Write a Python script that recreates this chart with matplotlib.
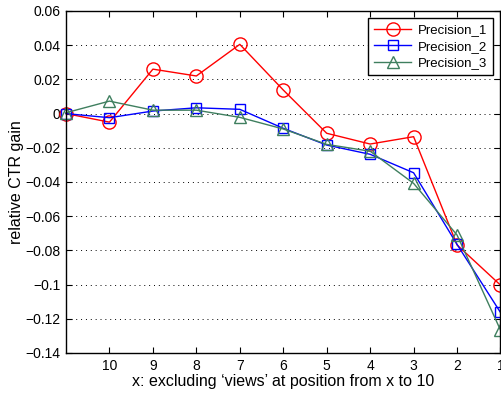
import numpy as np
import matplotlib.pyplot as plt

plt.rcParams['font.family'] = ['Liberation Sans', 'DejaVu Sans']

# data
x = [11, 10, 9, 8, 7, 6, 5, 4, 3, 2, 1]
prec_1 = [0.0, -0.005, 0.026, 0.022, 0.0405, 0.0138, -0.0115, -0.0178, -0.0135, -0.0768, -0.1003]
prec_2 = [0.0, -0.0024, 0.0015, 0.0034, 0.0025, -0.0086, -0.0184, -0.0238, -0.0346, -0.0765, -0.1163]
prec_3 = [0.0005, 0.0073, 0.002, 0.002, -0.0022, -0.009, -0.018, -0.022, -0.0408, -0.071, -0.1266]
xticks = [10, 9, 8, 7, 6, 5, 4, 3, 2, 1]
yticks = [0.06, 0.04, 0.02, 0, -0.02, -0.04, -0.06, -0.08, -0.1, -0.12, -0.14]
ylabels = ['0.06', '0.04', '0.02', '0', '\u22120.02', '\u22120.04', '\u22120.06',
           '\u22120.08', '\u22120.1', '\u22120.12', '\u22120.14']

fig = plt.figure(figsize=(5.02, 3.93), dpi=100)
ax = fig.add_axes([66 / 502, 1 - 353 / 393, 434.5 / 502, 342 / 393])

ax.plot(x, prec_1, '-o', color='#ff0000', mfc='none', ms=9.5, lw=1, label='Precision_1', clip_on=False)
ax.plot(x, prec_2, '-s', color='#0000ff', mfc='none', ms=7.5, lw=1, label='Precision_2', clip_on=False)
ax.plot(x, prec_3, '-^', color='#3f7f5f', mfc='none', ms=9, lw=1, label='Precision_3', clip_on=False)

ax.set_xlim(11, 1)
ax.set_ylim(-0.14, 0.06)
ax.set_xticks(xticks)
ax.set_xticklabels([str(v) for v in xticks])
ax.set_yticks(yticks)
ax.set_yticklabels(ylabels)
ax.tick_params(direction='in', top=True, right=True, length=4, labelsize=10, width=0.8, pad=4)
ax.yaxis.grid(True, linestyle=(0, (1, 4)), color='black', lw=0.7)
for s in ax.spines.values():
    s.set_linewidth(1)

ax.set_xlabel("x: excluding \u2018views\u2019 at position from x to 10", fontsize=11.5, labelpad=1)
ax.set_ylabel("relative CTR gain", fontsize=11.5, labelpad=1)

leg = ax.legend(loc='upper right', fontsize=9.5, fancybox=False, framealpha=1,
                edgecolor='black', borderaxespad=0.55, handlelength=2.8,
                labelspacing=0.32, borderpad=0.45, handletextpad=0.5)
leg.get_frame().set_linewidth(1)

fig.savefig('out.png', dpi=100)
